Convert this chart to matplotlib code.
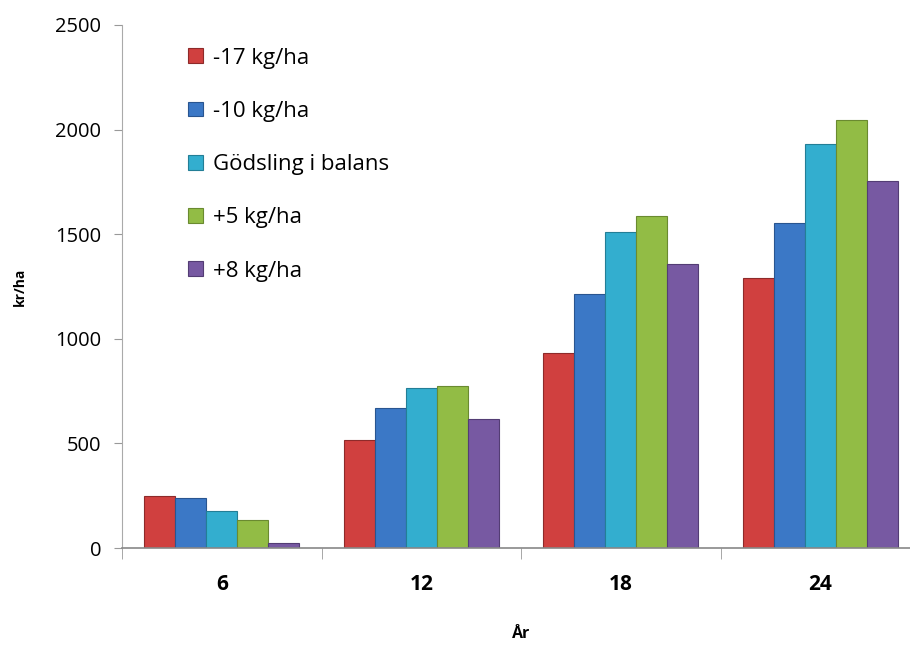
import numpy as np
import matplotlib
matplotlib.use("Agg")
import matplotlib.pyplot as plt

plt.rcParams['font.family'] = ['Open Sans', 'DejaVu Sans']

years = ['6', '12', '18', '24']
series = ['-17 kg/ha', '-10 kg/ha', 'Gödsling i balans', '+5 kg/ha', '+8 kg/ha']
v_m17 = [250, 516, 930, 1290]
v_m10 = [240, 668, 1213, 1552]
v_bal = [178, 765, 1510, 1932]
v_p5 = [134, 775, 1588, 2047]
v_p8 = [25, 617, 1357, 1754]
values = [v_m17, v_m10, v_bal, v_p5, v_p8]

colors = ['#D0403F', '#3B78C6', '#33AECF', '#92BC45', '#7759A2']
edges = ['#8E2A2A', '#295590', '#237E96', '#6A8A30', '#533D74']

fig = plt.figure(figsize=(9.1, 6.5), dpi=100)
ax = fig.add_axes([122/910, 102/650, 798/910, 523/650])

x = np.arange(len(years))
w = 0.155
for i, (vals, c, ec) in enumerate(zip(values, colors, edges)):
    ax.bar(x + (i - 2) * w, vals, w, color=c, edgecolor=ec, linewidth=0.8,
           label=series[i], zorder=2)

ax.set_xlim(-0.5, 3.5)
ax.set_ylim(0, 2500)
ax.set_yticks(range(0, 2501, 500))
ax.set_xticks(x)
ax.set_xticklabels(years, fontsize=15, fontweight='bold')
ax.set_xticks(np.arange(-0.5, 3.6, 1), minor=True)
ax.tick_params(axis='x', which='major', length=0, pad=19)
ax.tick_params(axis='x', which='minor', length=8, color='#999999')
ax.tick_params(axis='y', labelsize=14.5, length=6, color='#999999', pad=9)

for s in ['top', 'right']:
    ax.spines[s].set_visible(False)
ax.spines['left'].set_color('#aaaaaa')
ax.spines['bottom'].set_color('#888888')
ax.spines['bottom'].set_linewidth(1.2)

ax.set_xlabel('År', fontsize=11.5, fontweight='bold', labelpad=22)
ax.set_ylabel('kr/ha', fontsize=10, fontweight='bold', labelpad=20)

ax.legend(loc='upper left', bbox_to_anchor=(0.058, 0.995), frameon=False,
          fontsize=16, handlelength=0.65, handleheight=0.65, handletextpad=0.45,
          labelspacing=1.45)

fig.savefig('out.png', dpi=100)
